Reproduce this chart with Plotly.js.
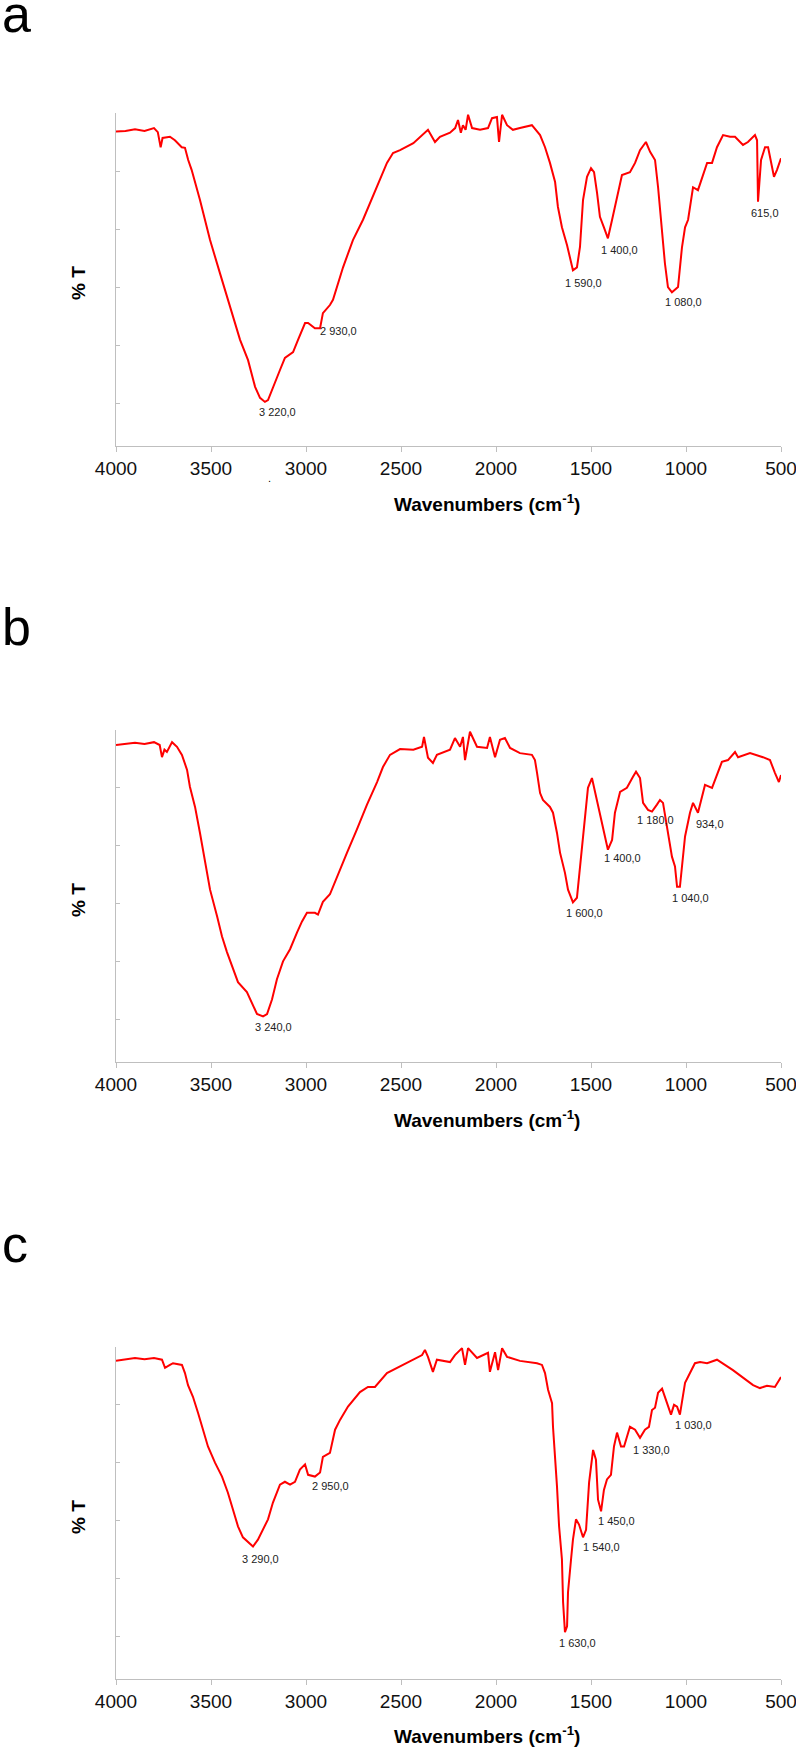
<!DOCTYPE html>
<html>
<head>
<meta charset="utf-8">
<script src="https://cdn.plot.ly/plotly-3.0.1.min.js"></script>
<style>html,body{margin:0;padding:0;background:#fff;}#chart{width:796px;height:1747px;}</style>
</head>
<body>
<div id="chart"></div>
<script>
// ---- Data (wavenumber in cm-1, transmittance in arbitrary %T units) ----
const wnA = [4000,3950,3900,3850,3800,3780,3765,3755,3716,3690,
  3654,3637,3620,3602,3558,3505,3453,3400,3347,3305,
  3268,3242,3216,3200,3174,3137,3111,3068,3042,3005,
  2989,2953,2926,2911,2874,2858,2805,2753,2700,2663,
  2611,2574,2542,2505,2435,2374,2358,2321,2295,2242,
  2215,2200,2185,2174,2160,2147,2126,2084,2042,2021,
  1995,1984,1968,1942,1911,1874,1811,1768,1742,1716,
  1689,1674,1653,1626,1611,1595,1574,1558,1542,1521,
  1500,1484,1468,1453,1432,1411,1389,1363,1337,1295,
  1268,1242,1211,1189,1163,1147,1126,1111,1095,1074,
  1042,1021,1005,989,963,937,889,863,837,805,
  768,742,700,674,637,626,621,605,584,568,
  537,521,500];
const tA = [96.8,96.9,97.2,96.9,97.4,96.7,94.1,95.7,95.9,95.3,
  94.1,94.0,91.9,90.2,85.0,78.1,72.4,66.6,60.9,57.4,
  52.8,50.9,50.2,50.5,52.8,55.7,57.8,58.8,60.9,63.8,
  63.8,62.9,62.9,65.5,66.9,67.8,73.4,78.1,81.6,84.5,
  88.4,91.4,93.1,93.6,94.8,96.7,97.1,95.0,95.9,96.6,
  97.4,98.8,96.6,97.9,97.1,99.7,97.4,97.1,97.4,99.1,
  99.3,95.0,99.7,97.9,97.1,97.4,97.9,96.2,94.1,91.4,
  88.1,83.8,80.3,77.2,75.2,72.9,73.4,76.9,85.0,89.0,
  90.5,89.8,86.2,82.1,80.3,78.4,81.6,85.5,89.3,89.8,
  91.4,93.6,95.0,93.3,91.9,87.2,79.8,74.1,70.0,69.1,
  70.0,76.9,80.3,81.6,87.2,86.7,91.4,91.4,94.1,96.2,
  95.9,95.9,94.5,95.0,96.2,95.3,84.7,91.9,94.1,94.1,
  89.0,90.2,92.2];

const wnB = [4000,3950,3900,3850,3800,3770,3758,3745,3732,3705,
  3679,3653,3626,3611,3584,3558,3532,3505,3468,3442,
  3416,3384,3358,3311,3284,3258,3226,3205,3179,3153,
  3121,3084,3047,3021,2995,2953,2937,2911,2874,2837,
  2784,2732,2679,2626,2595,2558,2505,2435,2389,2379,
  2358,2332,2311,2242,2216,2189,2174,2163,2137,2100,
  2047,2032,2005,1979,1953,1926,1874,1811,1795,1784,
  1768,1753,1716,1700,1679,1663,1637,1621,1595,1574,
  1547,1532,1516,1495,1479,1453,1432,1411,1389,1374,
  1347,1311,1279,1263,1242,1226,1200,1179,1153,1137,
  1121,1100,1074,1058,1047,1032,1016,1005,979,963,
  937,900,863,811,779,742,726,663,595,558,
  532,511,500];
const tB = [97.4,97.6,97.8,97.6,97.9,97.4,95.3,96.6,96.2,97.9,
  97.1,95.7,93.1,90.2,86.7,82.2,77.6,72.4,67.8,64.3,
  61.6,58.6,56.4,54.7,52.6,50.9,50.5,50.9,53.4,56.9,
  60.0,62.1,65.0,66.9,68.4,68.4,68.1,70.3,71.6,74.7,
  78.8,82.8,87.1,91.0,93.6,95.7,96.7,96.6,97.1,98.8,
  95.2,94.3,95.7,96.6,98.6,97.1,98.8,94.8,99.7,97.1,
  96.9,98.8,95.3,98.3,98.6,96.9,96.0,95.7,94.8,92.6,
  89.1,87.9,86.7,85.7,82.2,78.8,75.3,72.4,70.2,71.0,
  79.8,85.7,90.0,91.7,89.3,85.0,82.2,79.3,81.0,85.7,
  89.3,90.0,91.9,92.8,91.7,87.4,86.2,85.9,87.1,87.9,
  87.4,83.3,78.1,76.4,72.9,72.9,78.8,81.6,85.7,87.4,
  85.7,90.5,90.0,94.5,94.8,96.2,95.3,96.0,95.3,94.8,
  92.6,91.0,92.2];

const wnC = [4000,3950,3900,3850,3800,3758,3742,3716,3700,3653,
  3637,3621,3595,3568,3542,3516,3479,3442,3411,3384,
  3358,3332,3305,3279,3253,3226,3200,3174,3137,3111,
  3084,3058,3032,3005,2989,2953,2926,2911,2874,2847,
  2821,2779,2716,2674,2637,2574,2505,2435,2389,2374,
  2358,2332,2311,2242,2216,2179,2163,2147,2100,2042,
  2032,2005,1989,1968,1942,1874,1784,1758,1742,1726,
  1705,1700,1689,1679,1668,1653,1647,1637,1626,1621,
  1605,1595,1579,1563,1542,1526,1510,1489,1474,1463,
  1447,1432,1416,1395,1379,1363,1342,1326,1295,1268,
  1242,1216,1195,1179,1163,1147,1126,1111,1095,1079,
  1063,1047,1032,1016,1005,979,953,926,889,837,
  795,753,700,647,611,574,532,516,500];
const tC = [97.6,97.8,98.1,97.9,98.1,97.8,96.4,96.9,97.2,96.9,
  95.5,93.4,91.4,88.6,85.7,82.8,80.0,77.6,74.8,71.9,
  69.0,67.1,66.2,65.5,66.7,68.4,70.2,73.1,76.2,76.7,
  76.2,76.7,78.8,79.7,77.9,77.6,78.3,81.0,81.7,85.7,
  87.4,89.7,92.2,93.1,93.1,95.5,96.7,97.8,98.6,99.5,
  98.3,95.7,97.8,97.4,98.6,99.8,96.9,99.8,98.1,99.0,
  95.7,99.1,96.0,99.8,98.3,97.6,97.2,96.9,95.5,92.6,
  90.3,86.2,81.0,75.9,69.0,63.3,55.9,50.7,51.7,57.6,
  63.3,66.7,70.2,69.3,67.1,68.4,76.6,82.2,80.5,73.6,
  71.6,75.3,77.1,77.9,82.8,85.2,82.8,82.8,86.2,85.7,
  84.3,85.7,86.2,89.1,89.5,92.1,92.8,91.4,90.0,88.3,
  90.0,89.7,88.3,92.1,93.8,95.5,97.2,97.4,97.2,97.8,
  96.9,96.0,94.7,93.4,92.9,93.3,93.1,94.0,94.8];

const xTicks = [4000,3500,3000,2500,2000,1500,1000,500];
const xTickText = ["4000","3500","3000","2500","2000","1500","1000","500"];
const yTicks = [50,60,70,80,90,100];

// peak labels
const peakTextA = ["3 220,0","2 930,0","1 590,0","1 400,0","1 080,0","615,0"];
const peakXA = [3150,2829,1539,1350,1013,584];
const peakYA = [48.4,62.4,70.7,76.4,67.4,82.8];
const peakTextB = ["3 240,0","1 600,0","1 400,0","1 180,0","1 040,0","934,0"];
const peakXB = [3171,1532,1334,1163,976,876];
const peakYB = [48.6,68.4,77.8,84.5,71.0,83.8];
const peakTextC = ["3 290,0","2 950,0","1 630,0","1 540,0","1 450,0","1 330,0","1 030,0"];
const peakXC = [3237,2871,1571,1447,1368,1182,961];
const peakYC = [63.4,76.0,48.8,65.5,70.0,82.2,86.6];

const panelLetters = ["a","b","c"];
const yTitle = "% T";
const xTitle = "<b>Wavenumbers (cm<sup>-1</sup>)</b>";

// ---- Build ----
const W = 796, H = 1747;
const px = v => v / W;
const py = v => 1 - v / H;

const lineStyle = {color:'#ff0000', width:2};
const traces = [
  {x:wnA, y:tA, xaxis:'x', yaxis:'y', type:'scatter', mode:'lines', line:lineStyle, hoverinfo:'skip'},
  {x:wnB, y:tB, xaxis:'x2', yaxis:'y2', type:'scatter', mode:'lines', line:lineStyle, hoverinfo:'skip'},
  {x:wnC, y:tC, xaxis:'x3', yaxis:'y3', type:'scatter', mode:'lines', line:lineStyle, hoverinfo:'skip'}
];

const axisGray = '#bfbfbf';
function xAx(anchor){
  return {anchor:anchor, domain:[px(116), px(781)], range:[4000,500],
    tickmode:'array', tickvals:xTicks, ticktext:xTickText,
    ticks:'outside', ticklen:5, tickcolor:axisGray, tickwidth:1,
    ticklabeloverflow:'allow',
    showline:true, linecolor:axisGray, linewidth:1,
    showgrid:false, zeroline:false,
    tickfont:{family:'Liberation Sans, Arial, sans-serif', size:19, color:'#111'}};
}
function yAx(anchor, top, bottom){
  return {anchor:anchor, domain:[py(bottom), py(top)], range:[42.6,100],
    tickmode:'array', tickvals:yTicks, showticklabels:false,
    ticks:'inside', ticklen:4, tickcolor:axisGray, tickwidth:1,
    showline:true, linecolor:axisGray, linewidth:1,
    showgrid:false, zeroline:false};
}

const annotations = [];
function addPeaks(texts, xs, ys, xref, yref){
  texts.forEach((t,i)=>annotations.push({text:t, x:xs[i], y:ys[i], xref:xref, yref:yref,
    showarrow:false, xanchor:'center', yanchor:'middle',
    font:{family:'Liberation Sans, Arial, sans-serif', size:11, color:'#222'}}));
}
addPeaks(peakTextA, peakXA, peakYA, 'x', 'y');
addPeaks(peakTextB, peakXB, peakYB, 'x2', 'y2');
addPeaks(peakTextC, peakXC, peakYC, 'x3', 'y3');

const letterY = [14, 627, 1244];
const yTitleY = [283, 900, 1517];
const xTitleY = [503, 1119, 1735];
for (let i=0;i<3;i++){
  annotations.push({text:panelLetters[i], x:0, y:py(letterY[i]), xref:'paper', yref:'paper',
    showarrow:false, xanchor:'left', yanchor:'middle',
    font:{family:'Liberation Sans, Arial, sans-serif', size:52, color:'#000'}});
  annotations.push({text:'<b>'+yTitle+'</b>', x:px(78), y:py(yTitleY[i]), xref:'paper', yref:'paper',
    showarrow:false, textangle:-90, xanchor:'center', yanchor:'middle',
    font:{family:'Liberation Sans, Arial, sans-serif', size:19, color:'#000'}});
  annotations.push({text:xTitle, x:px(487), y:py(xTitleY[i]), xref:'paper', yref:'paper',
    showarrow:false, xanchor:'center', yanchor:'middle',
    font:{family:'Liberation Sans, Arial, sans-serif', size:19, color:'#000'}});
}
// stray dot under panel a axis
annotations.push({text:'.', x:px(269), y:py(478), xref:'paper', yref:'paper', showarrow:false,
  xanchor:'center', yanchor:'middle', font:{family:'Liberation Sans, Arial, sans-serif', size:11, color:'#000'}});

const layout = {
  width:W, height:H, margin:{l:0,r:0,t:0,b:0},
  paper_bgcolor:'#fff', plot_bgcolor:'#fff', showlegend:false,
  font:{family:'Liberation Sans, Arial, sans-serif'},
  xaxis:xAx('y'), xaxis2:xAx('y2'), xaxis3:xAx('y3'),
  yaxis:yAx('x',113,446), yaxis2:yAx('x2',730,1062), yaxis3:yAx('x3',1347,1679),
  annotations:annotations
};
Plotly.newPlot('chart', traces, layout, {staticPlot:true, displayModeBar:false});
</script>
</body>
</html>
